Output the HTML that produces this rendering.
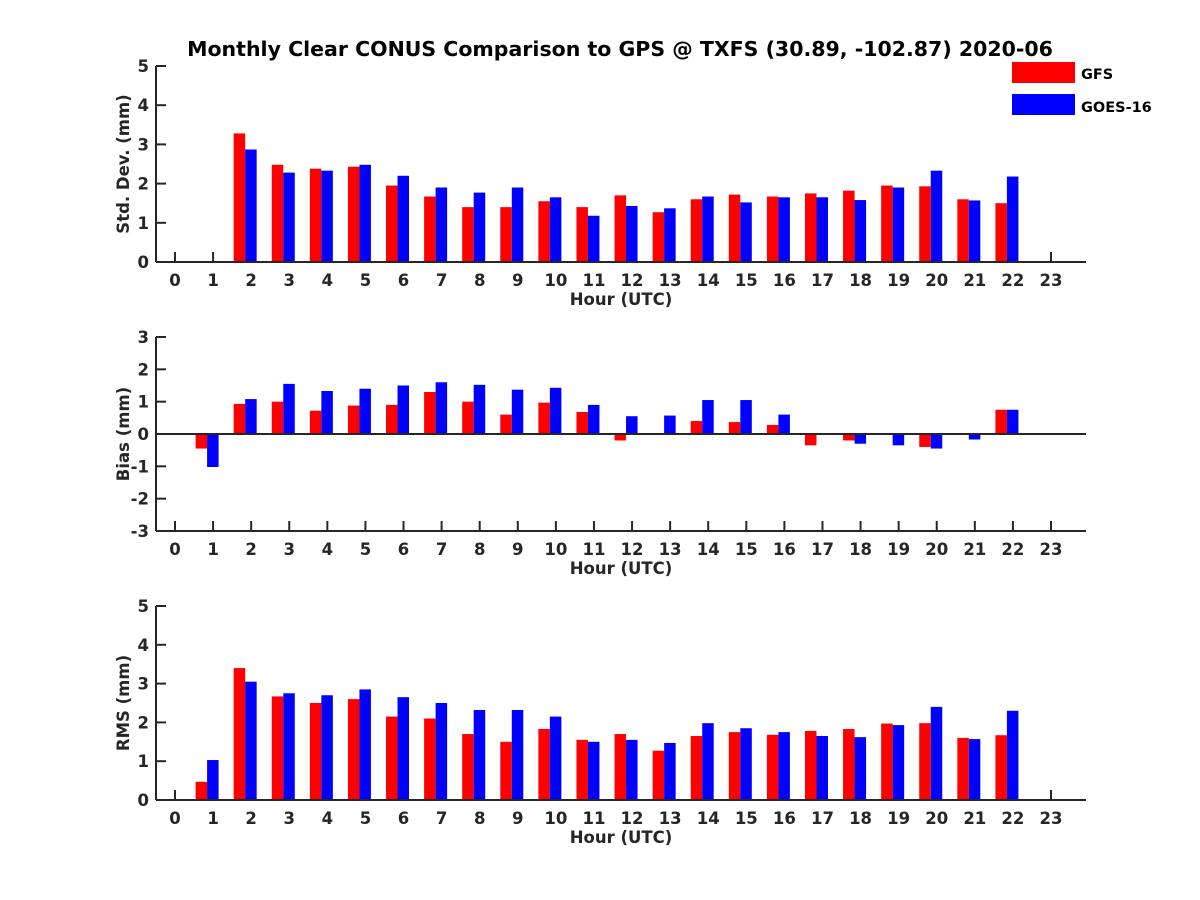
<!DOCTYPE html>
<html><head><meta charset="utf-8"><style>
body{margin:0;background:#fff}
svg{display:block;font-family:"DejaVu Sans","Liberation Sans",sans-serif;font-weight:bold}
</style></head><body>
<svg id="chart" width="1200" height="900" viewBox="0 0 1200 900" xmlns="http://www.w3.org/2000/svg">
<rect width="1200" height="900" fill="#fff"/>
<text x="620" y="56" text-anchor="middle" font-size="20.5" fill="#000">Monthly Clear CONUS Comparison to GPS @ TXFS (30.89, -102.87) 2020-06</text>
<g>
<rect x="1012" y="62" width="63" height="21" fill="#ff0000"/>
<text x="1081" y="79" font-size="14.5" fill="#000">GFS</text>
<rect x="1012" y="94" width="63" height="21" fill="#0000ff"/>
<text x="1081" y="112" font-size="14.5" fill="#000">GOES-16</text>
</g>
</svg>
<script>
const hours = [0,1,2,3,4,5,6,7,8,9,10,11,12,13,14,15,16,17,18,19,20,21,22,23];
const stdGfs  = [null,null,3.28,2.48,2.38,2.43,1.95,1.67,1.40,1.40,1.55,1.40,1.70,1.27,1.60,1.72,1.67,1.75,1.82,1.95,1.93,1.60,1.50,null];
const stdGoes = [null,null,2.87,2.28,2.33,2.48,2.20,1.90,1.77,1.90,1.65,1.18,1.43,1.37,1.67,1.52,1.65,1.65,1.58,1.90,2.33,1.57,2.18,null];
const biasGfs  = [null,-0.45,0.93,1.00,0.72,0.88,0.90,1.30,1.00,0.60,0.97,0.68,-0.20,-0.03,0.40,0.37,0.28,-0.35,-0.20,0,-0.40,0,0.75,null];
const biasGoes = [null,-1.02,1.08,1.55,1.33,1.40,1.50,1.60,1.52,1.37,1.43,0.90,0.55,0.57,1.05,1.05,0.60,0,-0.30,-0.35,-0.45,-0.17,0.75,null];
const rmsGfs  = [null,0.47,3.40,2.67,2.50,2.60,2.15,2.10,1.70,1.50,1.83,1.55,1.70,1.27,1.65,1.75,1.68,1.78,1.83,1.97,1.98,1.60,1.67,null];
const rmsGoes = [null,1.03,3.05,2.75,2.70,2.85,2.65,2.50,2.32,2.32,2.15,1.50,1.55,1.47,1.98,1.85,1.75,1.65,1.62,1.93,2.40,1.57,2.30,null];
const stdTicks = [0,1,2,3,4,5];
const biasTicks = [-3,-2,-1,0,1,2,3];
const rmsTicks = [0,1,2,3,4,5];

const NS='http://www.w3.org/2000/svg';
const svg=document.getElementById('chart');
const X0=156, X1=1086;
function xScale(h){return 175+h*(1051-175)/23;}
function mk(tag,attrs,parent){const e=document.createElementNS(NS,tag);for(const k in attrs)e.setAttribute(k,attrs[k]);(parent||svg).appendChild(e);return e;}

function panel(name,top,bottom,ymin,ymax,ticks,gfs,goes,ylabel){
  const g=mk('g',{});
  
  
  const y=v=>bottom-(v-ymin)/(ymax-ymin)*(bottom-top);
  const col='#262626';
  // ticks first (behind bars)
  ticks.forEach(t=>{
    mk('line',{x1:X0,y1:y(t),x2:X0+10,y2:y(t),stroke:col,'stroke-width':2},g);
    const tx=mk('text',{x:X0-7,y:y(t)+6,'text-anchor':'end','font-size':16.5,fill:col},g);
    tx.textContent=t;
    
    
  });
  hours.forEach(h=>{
    const c=xScale(h);
    mk('line',{x1:c,y1:bottom,x2:c,y2:bottom-10,stroke:col,'stroke-width':2},g);
    const tx=mk('text',{x:c,y:bottom+24,'text-anchor':'middle','font-size':16.5,fill:col},g);
    tx.textContent=h;
    
    
  });
  // bars
  hours.forEach((h,i)=>{
    const c=xScale(h);
    [[gfs[i],'#ff0000',c-17.5,'gfs'],[goes[i],'#0000ff',c-6,'goes16']].forEach(([v,f,x,s])=>{
      if(v===null||v===0)return;
      const y0=y(0),y1=y(v);
      const r=mk('rect',{x:x,y:Math.min(y0,y1),width:11.5,height:Math.abs(y1-y0),fill:f},g);
      
      
    });
  });
  // axes
  const ya=mk('line',{x1:X0,y1:top,x2:X0,y2:bottom,stroke:col,'stroke-width':2},g);
  
  
  const xa=mk('line',{x1:X0,y1:bottom,x2:X1,y2:bottom,stroke:col,'stroke-width':2},g);
  
  
  if(ymin<0){
    const zl=mk('line',{x1:X0,y1:y(0),x2:X1,y2:y(0),stroke:col,'stroke-width':2},g);
    
    
  }
  const xt=mk('text',{x:621,y:bottom+43,'text-anchor':'middle','font-size':16.5,fill:col},g);
  xt.textContent='Hour (UTC)';
  
  
  const cy=(top+bottom)/2;
  const yt=mk('text',{x:0,y:0,'text-anchor':'middle','font-size':16.5,fill:col,transform:`translate(129,${cy}) rotate(-90)`},g);
  yt.textContent=ylabel;
  
  
}
panel('std',66,262,0,5,stdTicks,stdGfs,stdGoes,'Std. Dev. (mm)');
panel('bias',337,531,-3,3,biasTicks,biasGfs,biasGoes,'Bias (mm)');
panel('rms',606,800,0,5,rmsTicks,rmsGfs,rmsGoes,'RMS (mm)');
</script>
</body></html>
